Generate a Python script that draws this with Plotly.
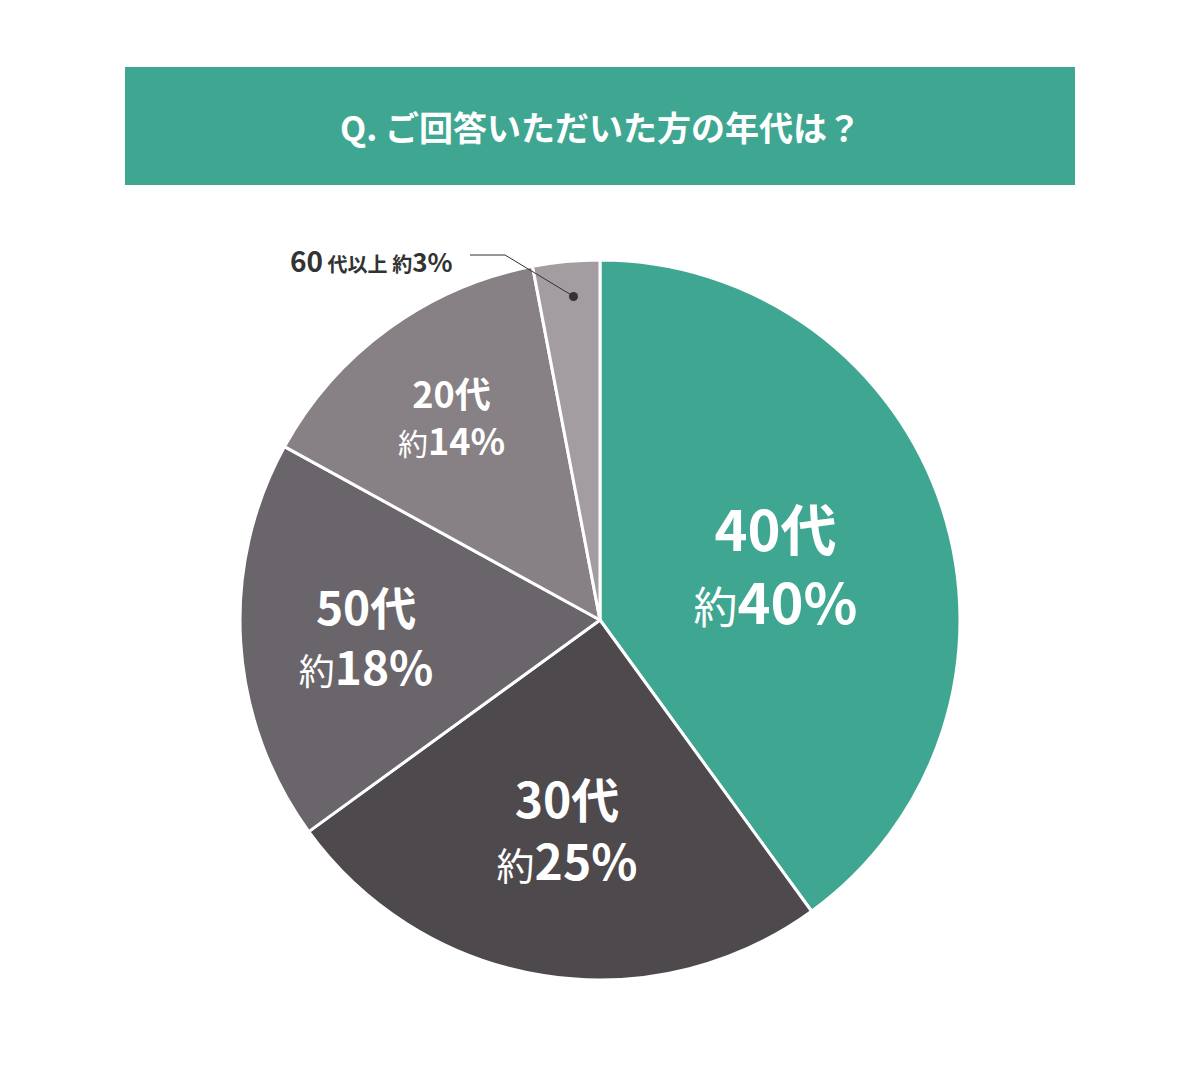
import plotly.graph_objects as go

labels = ["40代", "30代", "50代", "20代", "60代以上"]
values = [40, 25, 18, 14, 3]
colors = ["#3fa791", "#4d494d", "#6a656a", "#878185", "#a39da1"]
sizes = [56, 48, 46, 36, 20]
numsizes = [44, 38, 36, 30, 20]

W, H, OFF = 1200, 1080, 8
def px(x): return (x - OFF) / W
def py(y): return 1 - (y - OFF) / H

texts = []
for lab, v, s, ns in zip(labels, values, sizes, numsizes):
    texts.append(f"<b>{lab}</b><br><span style='font-size:{ns}px'>約</span><b>{v}%</b>")
positions = ["inside"] * 4 + ["none"]

fig = go.Figure(go.Pie(
    labels=labels, values=values, sort=False, direction="clockwise", rotation=0,
    marker=dict(colors=colors, line=dict(color="white", width=3)),
    text=texts, textinfo="text", textposition=positions,
    insidetextorientation="horizontal",
    textfont=dict(color="white", size=sizes, family="Noto Sans CJK JP"),
    domain=dict(x=[px(240), px(960)], y=[py(980), py(260)]),
    showlegend=False, hoverinfo="label+percent",
))

fig.add_shape(type="rect", xref="paper", yref="paper", x0=px(125), x1=px(1075),
              y0=py(185), y1=py(67), fillcolor="#3fa791", line_width=0, layer="below")
fig.add_annotation(xref="paper", yref="paper", x=px(600), y=py(126), yanchor="middle",
                   showarrow=False, text="<b>Q. ご回答いただいた方の年代は？</b>",
                   font=dict(color="white", size=34, family="Noto Sans CJK JP"))
fig.add_annotation(xref="paper", yref="paper", x=px(455), y=py(260), xanchor="right",
                   yanchor="middle", showarrow=False,
                   text=f"<b><span style='font-size:28px'>60</span> 代以上 約<span style='font-size:26px'>{values[4]}%</span></b>",
                   font=dict(color="#333333", size=20, family="Noto Sans CJK JP"))
fig.add_shape(type="path", xref="paper", yref="paper",
              path=f"M {px(470)},{py(255)} L {px(505)},{py(255)} L {px(573)},{py(296)}",
              line=dict(color="#333333", width=1))
fig.add_shape(type="circle", xref="paper", yref="paper", x0=px(569), x1=px(578),
              y0=py(301), y1=py(292), fillcolor="#333333", line_width=0)

fig.update_layout(width=W, height=H, margin=dict(l=0, r=0, t=0, b=0),
                  paper_bgcolor="white", plot_bgcolor="white")
fig.write_html("out.html")
